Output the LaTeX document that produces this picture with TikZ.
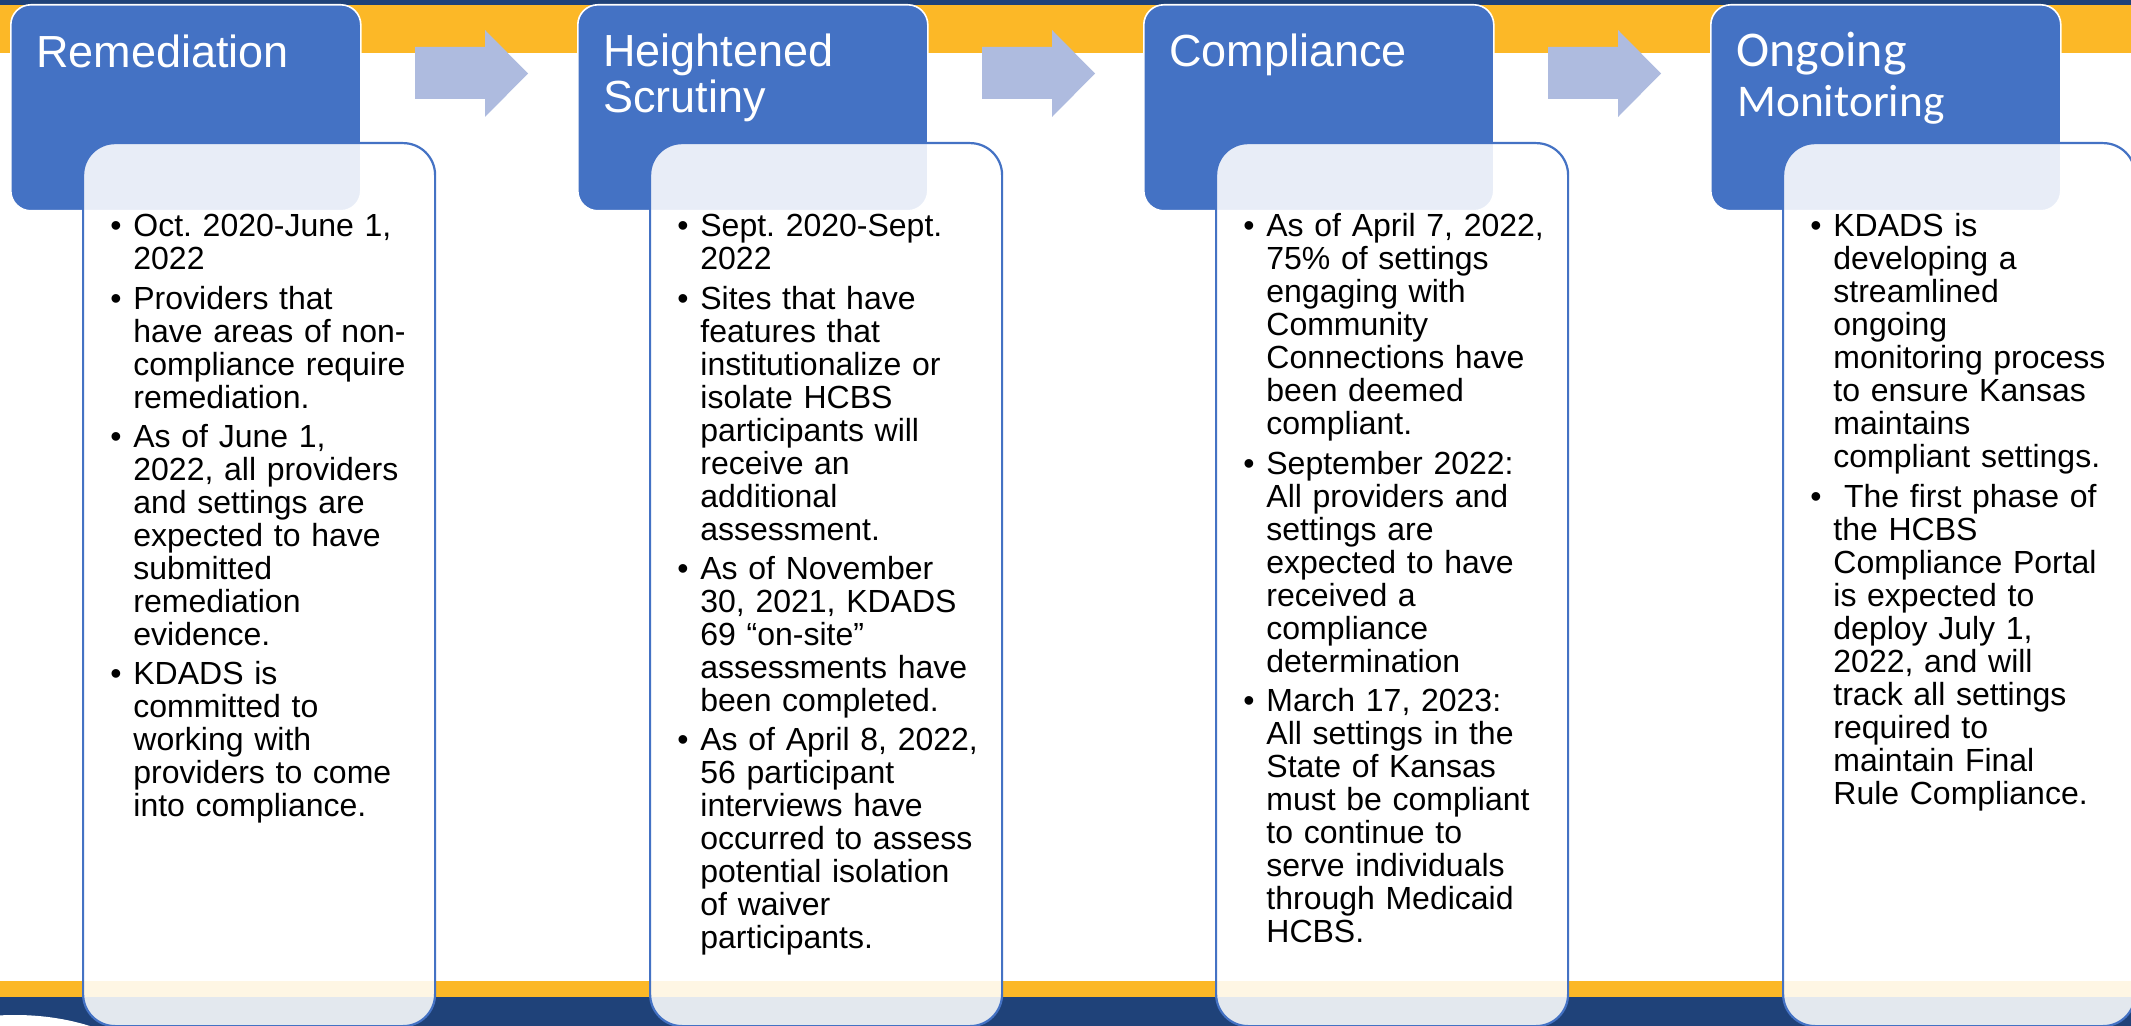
\documentclass[tikz,border=0pt]{standalone}
\usepackage{fontspec}
\setmainfont{Liberation Sans}
\newfontfamily\calfont{Carlito}
\definecolor{navy}{HTML}{1F4279}
\definecolor{gold}{HTML}{FCB827}
\definecolor{hblue}{HTML}{4472C4}
\definecolor{arrblue}{HTML}{AEBBDF}
\newcommand\bul[1]{\hangindent=11.5pt\hangafter=1\noindent\makebox[11.5pt][l]{•}#1\par}
\newcommand\bodysetup{\frenchspacing\raggedright\setlength{\parskip}{3.15pt}}
\begin{document}
\begin{tikzpicture}[x=0.5pt,y=-0.5pt,
  hdr/.style={draw=white, line width=0.8pt, fill=hblue, rounded corners=10pt, minimum width=175pt, minimum height=103pt, inner sep=0pt, anchor=north west},
  cbox/.style={draw=hblue, line width=1.1pt, fill=white, fill opacity=0.88, rounded corners=16pt, minimum width=176pt, minimum height=441.5pt, inner sep=0pt, anchor=north west},
  ttl/.style={text=white, inner sep=0pt, anchor=base west, font=\fontsize{22.5}{23}\selectfont},
  body/.style={inner sep=0pt, anchor=base west, text width=160pt, font=\fontsize{16}{16.5}\selectfont},
  arr/.style={fill=arrblue}]
\useasboundingbox (0,0) rectangle (2131,1026);
% background bands
\fill[white] (0,0) rectangle (2131,1026);
\fill[navy] (0,0) rectangle (2131,5);
\fill[gold] (0,5) rectangle (2131,53);
\fill[gold] (0,981) rectangle (2131,997);
\fill[navy] (0,997) rectangle (2131,1026);
\fill[white] (15,1100) ellipse [x radius=152, y radius=85];
% headers
\node[hdr] (h1) at (10,4) {};
\node[hdr] (h2) at (577,4) {};
\node[hdr] (h3) at (1143,4) {};
\node[hdr] (h4) at (1710,4) {};
% arrows
\foreach \ax in {415,982,1548}{
  \fill[arr, shift={(\ax,0)}] (0,47) -- (70,47) -- (70,30) -- (113,73.5) -- (70,117) -- (70,99) -- (0,99) -- cycle;
}
% content boxes
\node[cbox] (c1) at (82,142) {};
\node[cbox] (c2) at (649,142) {};
\node[cbox] (c3) at (1215,142) {};
\node[cbox] (c4) at (1782,142) {};
% titles
\node[ttl] (t1) at (36,68) {Remediation};
\node[ttl] (t2a) at (603,67) {Heightened};
\node[ttl] (t2b) at (603,113) {Scrutiny};
\node[ttl] (t3) at (1169,67) {Compliance};
\node[ttl, font=\calfont\fontsize{25}{26}\selectfont] (t4a) at (1736,67) {Ongoing};
\node[ttl, font=\calfont\fontsize{22.7}{23}\selectfont] (t4b) at (1737,117) {Monitoring};
% bodies
\node[body] (b1) at (110,237) {\bodysetup
\bul{Oct. 2020-June 1,\newline 2022}
\bul{Providers that\newline have areas of non-\newline compliance require\newline remediation.}
\bul{As of June 1,\newline 2022, all providers\newline and settings are\newline expected to have\newline submitted\newline remediation\newline evidence.}
\bul{KDADS is\newline committed to\newline working with\newline providers to come\newline into compliance.}};
\node[body] (b2) at (677,237) {\bodysetup
\bul{Sept. 2020-Sept.\newline 2022}
\bul{Sites that have\newline features that\newline institutionalize or\newline isolate HCBS\newline participants will\newline receive an\newline additional\newline assessment.}
\bul{As of November\newline 30, 2021, KDADS\newline 69 “on-site”\newline assessments have\newline been completed.}
\bul{As of April 8, 2022,\newline 56 participant\newline interviews have\newline occurred to assess\newline potential isolation\newline of waiver\newline participants.}};
\node[body] (b3) at (1243,237) {\bodysetup
\bul{As of April 7, 2022,\newline 75\% of settings\newline engaging with\newline Community\newline Connections have\newline been deemed\newline compliant.}
\bul{September 2022:\newline All providers and\newline settings are\newline expected to have\newline received a\newline compliance\newline determination}
\bul{March 17, 2023:\newline All settings in the\newline State of Kansas\newline must be compliant\newline to continue to\newline serve individuals\newline through Medicaid\newline HCBS.}};
\node[body] (b4) at (1810,237) {\bodysetup
\bul{KDADS is\newline developing a\newline streamlined\newline ongoing\newline monitoring process\newline to ensure Kansas\newline maintains\newline compliant settings.}
\bul{\ The first phase of\newline the HCBS\newline Compliance Portal\newline is expected to\newline deploy July 1,\newline 2022, and will\newline track all settings\newline required to\newline maintain Final\newline Rule Compliance.}};
\end{tikzpicture}
\end{document}
